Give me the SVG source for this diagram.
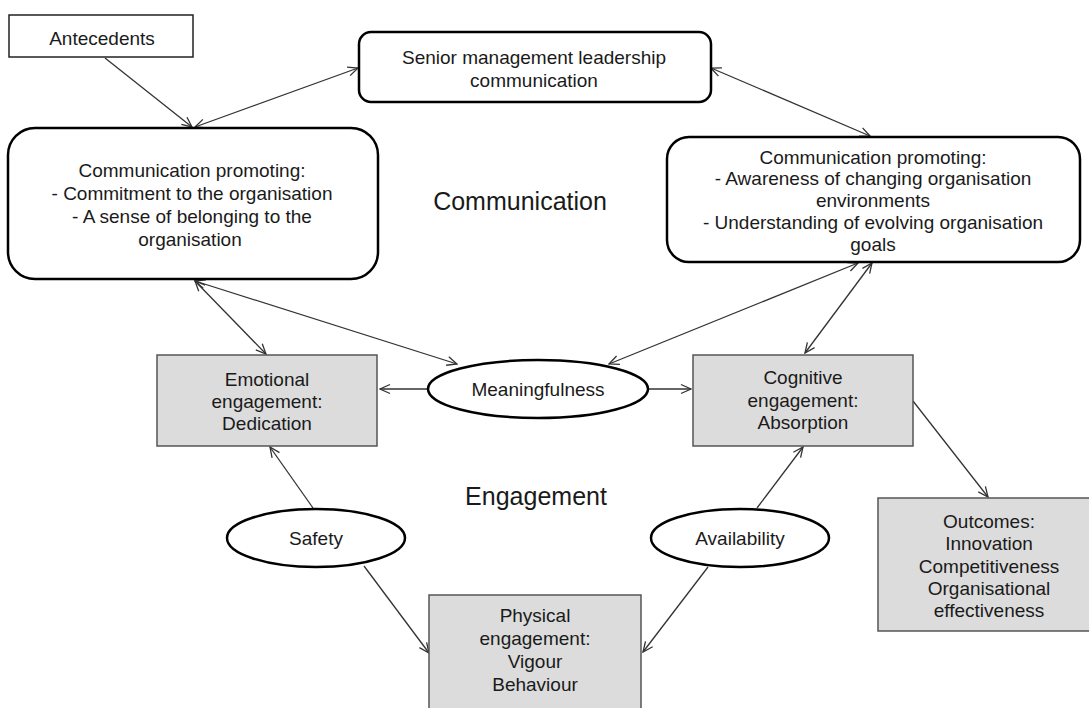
<svg xmlns="http://www.w3.org/2000/svg" width="1089" height="708" viewBox="0 0 1089 708">
<style>
text{font-family:"Liberation Sans",Arial,sans-serif;font-size:19px;fill:#1a1a1a;text-anchor:middle}
.big{font-size:25px}
.rbox{fill:#fff;stroke:#000;stroke-width:2.5}
.plain{fill:#fff;stroke:#222;stroke-width:1.5}
.grey{fill:#dcdcdc;stroke:#555;stroke-width:1.5}
.ell{fill:#fff;stroke:#000;stroke-width:2.5}
.con line{stroke:#333;stroke-width:1.3;fill:none}
</style>
<defs>
<marker id="ah" viewBox="-11 -6 12 12" markerWidth="12" markerHeight="12" refX="0" refY="0" orient="auto-start-reverse" markerUnits="userSpaceOnUse">
<path d="M-10,-4.5 L0,0 L-10,4.5" fill="none" stroke="#333" stroke-width="1.3"/>
</marker>
</defs>
<rect width="1089" height="708" fill="#fff"/>
<g id="connectors" class="con">
<line x1="105" y1="58" x2="192" y2="127" marker-end="url(#ah)"/>
<line x1="195" y1="127" x2="358" y2="68" marker-start="url(#ah)" marker-end="url(#ah)"/>
<line x1="711" y1="68" x2="870" y2="136" marker-start="url(#ah)" marker-end="url(#ah)"/>
<line x1="195" y1="281" x2="266" y2="354" marker-start="url(#ah)" marker-end="url(#ah)"/>
<line x1="195" y1="281" x2="457" y2="364" marker-start="url(#ah)" marker-end="url(#ah)"/>
<line x1="858" y1="263" x2="609" y2="364" marker-start="url(#ah)" marker-end="url(#ah)"/>
<line x1="872" y1="263" x2="805" y2="353" marker-start="url(#ah)" marker-end="url(#ah)"/>
<line x1="428" y1="389" x2="380" y2="389" marker-end="url(#ah)"/>
<line x1="649" y1="389" x2="691" y2="389" marker-end="url(#ah)"/>
<line x1="313" y1="508" x2="270" y2="447" marker-end="url(#ah)"/>
<line x1="364" y1="566" x2="429" y2="653" marker-end="url(#ah)"/>
<line x1="708" y1="567" x2="643" y2="652" marker-end="url(#ah)"/>
<line x1="757" y1="508" x2="803" y2="447" marker-end="url(#ah)"/>
<line x1="913" y1="401" x2="988" y2="497" marker-end="url(#ah)"/>
</g>
<g id="antecedents">
<rect class="plain" x="9" y="15" width="184" height="42"/>
<text x="102" y="45">Antecedents</text>
</g>
<g id="senior">
<rect class="rbox" x="359" y="32" width="352" height="70" rx="12"/>
<text x="534" y="64">Senior management leadership</text>
<text x="534" y="87">communication</text>
</g>
<g id="comm-left">
<rect class="rbox" x="8" y="128" width="370" height="151" rx="27"/>
<text x="192" y="177">Communication promoting:</text>
<text x="192" y="200">- Commitment to the organisation</text>
<text x="192" y="223">- A sense of belonging to the</text>
<text x="190" y="246">organisation</text>
</g>
<g id="comm-right">
<rect class="rbox" x="667" y="137" width="413" height="125" rx="22"/>
<text x="873" y="164">Communication promoting:</text>
<text x="873" y="185">- Awareness of changing organisation</text>
<text x="873" y="207">environments</text>
<text x="873" y="229">- Understanding of evolving organisation</text>
<text x="873" y="251">goals</text>
</g>
<g id="label-communication">
<text class="big" x="520" y="210">Communication</text>
</g>
<g id="emotional">
<rect class="grey" x="157" y="355" width="220" height="91"/>
<text x="267" y="386">Emotional</text>
<text x="267" y="408">engagement:</text>
<text x="267" y="430">Dedication</text>
</g>
<g id="meaningfulness">
<ellipse class="ell" cx="538" cy="389" rx="110" ry="29"/>
<text x="538" y="396">Meaningfulness</text>
</g>
<g id="cognitive">
<rect class="grey" x="693" y="355" width="220" height="91"/>
<text x="803" y="384">Cognitive</text>
<text x="803" y="407">engagement:</text>
<text x="803" y="429">Absorption</text>
</g>
<g id="label-engagement">
<text class="big" x="536" y="505">Engagement</text>
</g>
<g id="safety">
<ellipse class="ell" cx="316" cy="538" rx="89" ry="29"/>
<text x="316" y="545">Safety</text>
</g>
<g id="availability">
<ellipse class="ell" cx="740" cy="538" rx="89" ry="29"/>
<text x="740" y="545">Availability</text>
</g>
<g id="outcomes">
<rect class="grey" x="878" y="498" width="222" height="133"/>
<text x="989" y="528">Outcomes:</text>
<text x="989" y="550">Innovation</text>
<text x="989" y="573">Competitiveness</text>
<text x="989" y="595">Organisational</text>
<text x="989" y="617">effectiveness</text>
</g>
<g id="physical">
<rect class="grey" x="429" y="595" width="212" height="130"/>
<text x="535" y="622">Physical</text>
<text x="535" y="645">engagement:</text>
<text x="535" y="668">Vigour</text>
<text x="535" y="691">Behaviour</text>
</g>
</svg>
